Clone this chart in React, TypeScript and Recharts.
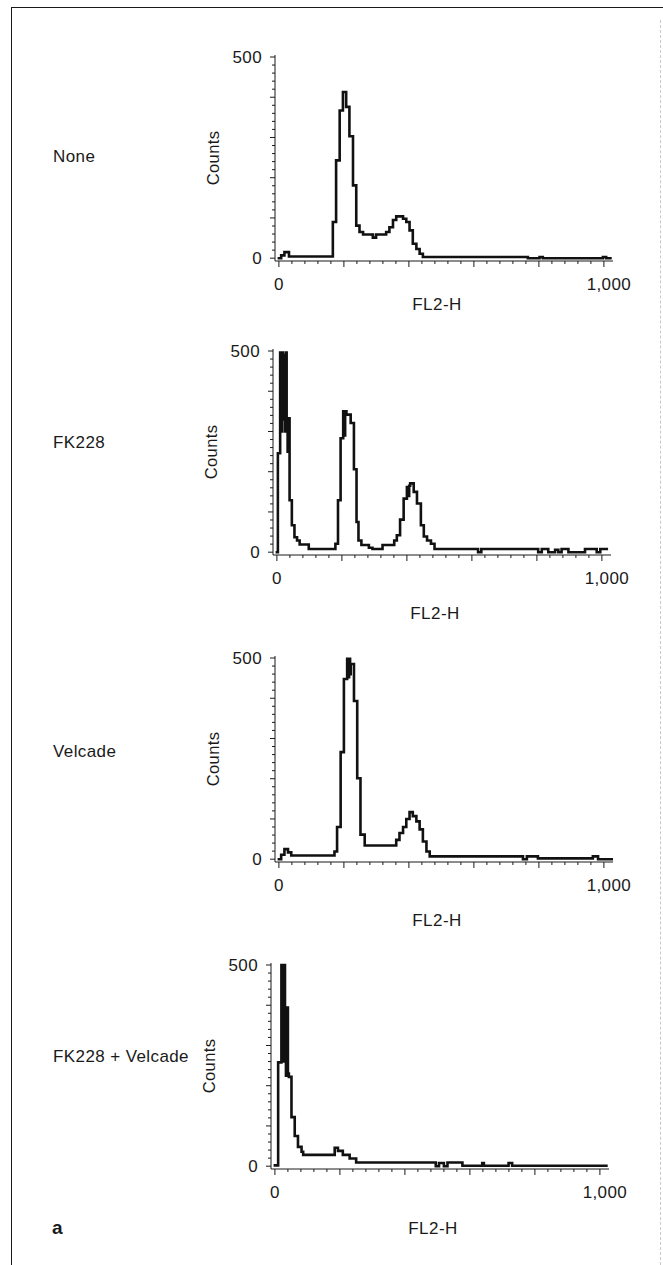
import { LineChart, Line, XAxis, YAxis } from "recharts";

// histogram bins: channel where each step starts, and the count for that step
const noneChannels = [0, 7, 17, 31, 166, 176, 187, 197, 207, 217, 228, 238, 248, 259, 289, 299, 330, 340, 351, 361, 382, 392, 402, 412, 423, 433, 443, 766, 802, 812, 997, 1007, 1020];
const noneCounts = [0, 7, 15, 4, 90, 243, 367, 413, 376, 303, 181, 81, 65, 59, 51, 59, 65, 77, 95, 104, 98, 90, 69, 36, 23, 11, 3, 0, 3, 0, 3, 0, 0];

const fkChannels = [0, 3, 10, 13, 16, 19, 22, 25, 28, 30, 33, 36, 39, 46, 54, 62, 70, 98, 180, 188, 196, 204, 207, 210, 214, 227, 237, 245, 251, 260, 283, 294, 325, 361, 369, 379, 390, 400, 404, 407, 410, 421, 431, 443, 452, 462, 474, 485, 619, 629, 804, 815, 835, 856, 866, 876, 897, 948, 984, 995, 1015];
const fkCounts = [0, 246, 496, 300, 496, 330, 490, 300, 496, 333, 250, 333, 129, 67, 37, 29, 19, 8, 21, 129, 283, 350, 290, 350, 342, 321, 206, 75, 29, 18, 11, 8, 18, 29, 42, 81, 133, 162, 140, 165, 171, 150, 121, 67, 39, 29, 21, 8, 0, 8, 0, 8, 0, 6, 0, 8, 0, 8, 0, 8, 8];

const velChannels = [0, 7, 17, 28, 38, 171, 179, 190, 200, 210, 213, 216, 219, 221, 231, 241, 251, 264, 361, 371, 382, 392, 402, 412, 423, 433, 443, 454, 464, 751, 763, 797, 966, 982, 1028];
const velCounts = [0, 11, 25, 17, 9, 19, 80, 266, 448, 498, 452, 498, 460, 485, 393, 201, 61, 34, 48, 65, 80, 100, 117, 107, 94, 74, 44, 19, 7, 0, 7, 2, 7, 0, 0];

const comboChannels = [0, 10, 20, 22, 24, 26, 28, 31, 34, 37, 40, 43, 51, 61, 71, 82, 87, 184, 194, 209, 230, 250, 495, 505, 520, 531, 577, 638, 643, 719, 730, 1020];
const comboCounts = [2, 258, 500, 270, 500, 260, 500, 394, 225, 394, 230, 222, 122, 75, 48, 36, 28, 46, 38, 28, 19, 9, 0, 8, 0, 9, 1, 8, 1, 8, 1, 1];

const treatments = ["None", "FK228", "Velcade", "FK228 + Velcade"];

const xTicks = Array.from({ length: 26 }, (_, i) => i * 40);
const yTicks = Array.from({ length: 26 }, (_, i) => i * 20);

const toRows = (ch: number[], counts: number[]) => ch.map((c, i) => ({ ch: c, count: counts[i] }));

const FONT = '"Liberation Sans", Arial, Helvetica, sans-serif';
const INK = "#1a1a1a";

// where each panel's plot box sits on the page
const panels = [
  { label: treatments[0], rows: toRows(noneChannels, noneCounts), left: 275, top: 55, sideY: 157, titleGap: 43 },
  { label: treatments[1], rows: toRows(fkChannels, fkCounts), left: 273, top: 349, sideY: 443, titleGap: 58 },
  { label: treatments[2], rows: toRows(velChannels, velCounts), left: 275, top: 656, sideY: 752, titleGap: 58 },
  { label: treatments[3], rows: toRows(comboChannels, comboCounts), left: 271, top: 963, sideY: 1057, titleGap: 59 },
];

const PLOT_W = 338;
const PLOT_H = 206;
const Y_AXIS_W = 85;
const X_AXIS_H = 70;
const M = { top: 10, right: 20, left: 0, bottom: 0 };

const XTick = (props: any) => {
  const { x, y, payload } = props;
  const v = payload.value;
  const major = v % 200 === 0;
  return (
    <g>
      <line x1={x} y1={y} x2={x} y2={y + (major ? 6 : 3)} stroke={INK} strokeWidth={1} />
      {(v === 0 || v === 1000) && (
        <text x={x + (v === 0 ? 0 : 5)} y={y + 23} textAnchor="middle" dominantBaseline="central"
          fontSize={17} fontFamily={FONT} fill={INK} letterSpacing={0.4}>
          {v === 0 ? "0" : "1,000"}
        </text>
      )}
    </g>
  );
};

const YTick = (props: any) => {
  const { x, y, payload } = props;
  const v = payload.value;
  const major = v % 100 === 0;
  return (
    <g>
      <line x1={x} y1={y} x2={x - (major ? 5 : 3)} y2={y} stroke={INK} strokeWidth={1} />
      {(v === 0 || v === 500) && (
        <text x={x - 13} y={y} textAnchor="end" dominantBaseline="central"
          fontSize={17} fontFamily={FONT} fill={INK} letterSpacing={0.4}>
          {v}
        </text>
      )}
    </g>
  );
};

const CountsLabel = (props: any) => {
  const vb = props.viewBox || {};
  const cx = vb.x + vb.width - 62;
  const cy = vb.y + vb.height / 2;
  return (
    <text x={cx} y={cy} transform={`rotate(-90 ${cx} ${cy})`} textAnchor="middle" dominantBaseline="central"
      fontSize={16.5} fontFamily={FONT} fill={INK} letterSpacing={0.4}>
      Counts
    </text>
  );
};

const makeTitle = (gap: number) => (props: any) => {
  const vb = props.viewBox || {};
  return (
    <text x={vb.x + 162} y={vb.y + gap} textAnchor="middle" dominantBaseline="central"
      fontSize={17} fontFamily={FONT} fill={INK} letterSpacing={0.5}>
      FL2-H
    </text>
  );
};

const Panel = ({ p }: { p: (typeof panels)[number] }) => (
  <div style={{ position: "absolute", left: p.left - Y_AXIS_W, top: p.top - M.top }}>
    <LineChart width={Y_AXIS_W + PLOT_W + M.right} height={M.top + PLOT_H + X_AXIS_H} data={p.rows} margin={M}>
      <XAxis dataKey="ch" type="number" domain={[-12, 1028]} allowDataOverflow ticks={xTicks} interval={0}
        tick={<XTick />} tickLine={false} tickSize={0} tickMargin={0} height={X_AXIS_H}
        axisLine={{ stroke: INK, strokeWidth: 1 }} label={makeTitle(p.titleGap)} />
      <YAxis type="number" domain={[-7, 505]} allowDataOverflow ticks={yTicks} interval={0}
        tick={<YTick />} tickLine={false} tickSize={0} tickMargin={0} width={Y_AXIS_W}
        axisLine={{ stroke: INK, strokeWidth: 1 }} label={CountsLabel} />
      <Line type="stepAfter" dataKey="count" stroke="#111" strokeWidth={2.6} dot={false}
        isAnimationActive={false} strokeLinejoin="miter" strokeLinecap="square" />
    </LineChart>
  </div>
);

export default function App() {
  return (
    <div style={{ position: "absolute", left: 0, top: 0, width: 663, height: 1265, background: "#fff", overflow: "hidden", fontFamily: FONT }}>
      <div style={{ position: "absolute", left: 11, top: 7, width: 660, height: 1265, borderLeft: `1.5px solid ${INK}`, borderTop: `1.5px solid ${INK}` }} />
      <div style={{ position: "absolute", left: 660, top: 20, height: 1245, borderLeft: "1px dashed #c8c8c8" }} />
      {panels.map((p) => (
        <div key={p.label}>
          <div style={{ position: "absolute", left: 53, top: p.sideY, transform: "translateY(-50%)", fontSize: 17, letterSpacing: 0.4, color: INK, whiteSpace: "nowrap" }}>
            {p.label}
          </div>
          <Panel p={p} />
        </div>
      ))}
      <div style={{ position: "absolute", left: 52, top: 1228, transform: "translateY(-50%)", fontSize: 19, fontWeight: 700, color: INK }}>
        a
      </div>
    </div>
  );
}
